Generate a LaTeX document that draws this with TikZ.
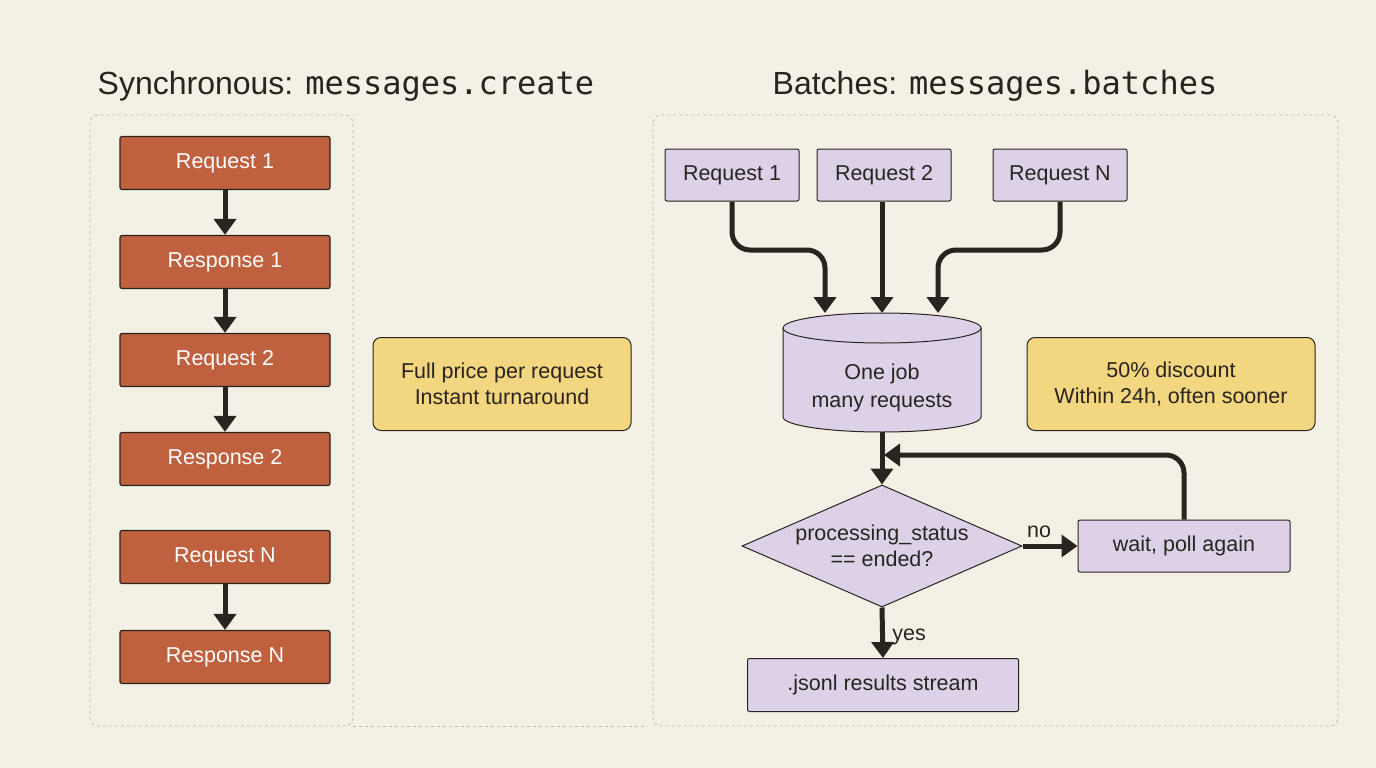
\documentclass[tikz,border=0pt]{standalone}
\usepackage{fontspec}
\setmainfont{Liberation Sans}
\setmonofont{DejaVu Sans Mono}
\usetikzlibrary{shapes.geometric,arrows.meta}
\definecolor{bg}{HTML}{F3F0E5}
\definecolor{org}{HTML}{BF603F}
\definecolor{pur}{HTML}{DDD1E8}
\definecolor{yel}{HTML}{F2D680}
\definecolor{ink}{HTML}{2A2420}
\definecolor{dashc}{HTML}{BDBAB2}
\begin{document}
\begin{tikzpicture}[x=1pt,y=-1pt,
  ob/.style={draw=ink,line width=1.2pt,fill=org,text=white,rounded corners=2pt,minimum width=210pt,minimum height=53pt,font=\fontsize{21.5}{26}\selectfont},
  pb/.style={draw=ink,line width=1pt,fill=pur,text=ink,rounded corners=2pt,minimum height=52pt,font=\fontsize{21.5}{26}\selectfont},
  yb/.style={draw=ink,line width=1pt,fill=yel,text=ink,rounded corners=8pt,minimum height=93pt,align=center,font=\fontsize{21.5}{26}\selectfont},
  ar/.style={draw=ink,line width=5pt,-{Triangle[width=22pt,length=16pt]},rounded corners=18pt},
  box/.style={draw=dashc,dashed,line width=0.8pt,rounded corners=8pt},
  ttl/.style={text=ink,font=\fontsize{32}{38}\selectfont}]
\fill[bg] (0,0) rectangle (1376,768);
\useasboundingbox (0,0) rectangle (1376,768);
\draw[box] (90,115) rectangle (353,726);
\draw[box] (653,115) rectangle (1338,726);
\draw[dashc,dashed,line width=0.8pt] (353,726) -- (645,726);
\node[ttl] (t1) at (346,86) {Synchronous: \texttt{messages.create}};
\node[ttl] (t2) at (995,86) {Batches: \texttt{messages.batches}};
\node[ob] (a1) at (225,163) {Request 1};
\node[ob] (a2) at (225,262) {Response 1};
\node[ob] (a3) at (225,360) {Request 2};
\node[ob] (a4) at (225,459) {Response 2};
\node[ob] (a5) at (225,557) {Request N};
\node[ob] (a6) at (225,657) {Response N};
\draw[ar] (a1) -- (a2); \draw[ar] (a2) -- (a3); \draw[ar] (a3) -- (a4); \draw[ar] (a5) -- (a6);
\node[yb,minimum width=258pt] (y1) at (502,384) {Full price per request\\Instant turnaround};
\node[yb,minimum width=288pt] (y2) at (1171,384) {50\% discount\\Within 24h, often sooner};
\node[pb,minimum width=134pt] (r1) at (732,175) {Request 1};
\node[pb,minimum width=134pt] (r2) at (884,175) {Request 2};
\node[pb,minimum width=134pt] (r3) at (1060,175) {Request N};
\draw[ink,line width=1pt,fill=pur] (783,328) arc[start angle=180,end angle=0,x radius=99pt,y radius=15pt] -- (981,417) arc[start angle=0,end angle=-180,x radius=99pt,y radius=15pt] -- cycle;
\draw[ink,line width=1pt] (783,328) arc[start angle=180,end angle=360,x radius=99pt,y radius=15pt];
\coordinate (ct1) at (825,313); \coordinate (ct2) at (882,313); \coordinate (ct3) at (938,313);
\coordinate (cb) at (882,432);
\node[text=ink,align=center,font=\fontsize{21.5}{28}\selectfont] (cyl) at (882,388) {One job\\many requests};
\draw[ar] (r1.south) -- (732,250) -- (825,250) -- (ct1);
\draw[ar] (r2.south -| ct2) -- (ct2);
\draw[ar] (r3.south) -- (1060,250) -- (938,250) -- (ct3);
\node[diamond,draw=ink,line width=1pt,fill=pur,text=ink,aspect=2.3,inner sep=0pt,minimum width=280pt,minimum height=122pt,align=center,font=\fontsize{21.5}{26}\selectfont] (d) at (882,546) {processing\_status\\== ended?};
\draw[ar,rounded corners=0pt] (cb) -- (d.north);
\node[pb,minimum width=212pt] (w) at (1184,546) {wait, poll again};
\draw[ar] (d.east) -- node[above,pos=0.3,text=ink,font=\fontsize{21.5}{26}\selectfont,yshift=2pt]{no} (w.west);
\coordinate (lp) at (884,455);
\draw[ar] (w.north) -- (1184,455) -- (lp);
\node[pb,minimum width=271pt,minimum height=53pt] (res) at (883,685) {.jsonl results stream};
\draw[ar] (d.south) -- node[right,text=ink,font=\fontsize{21.5}{26}\selectfont,xshift=4pt,yshift=-4pt]{yes} (res.north);
\end{tikzpicture}
\end{document}
